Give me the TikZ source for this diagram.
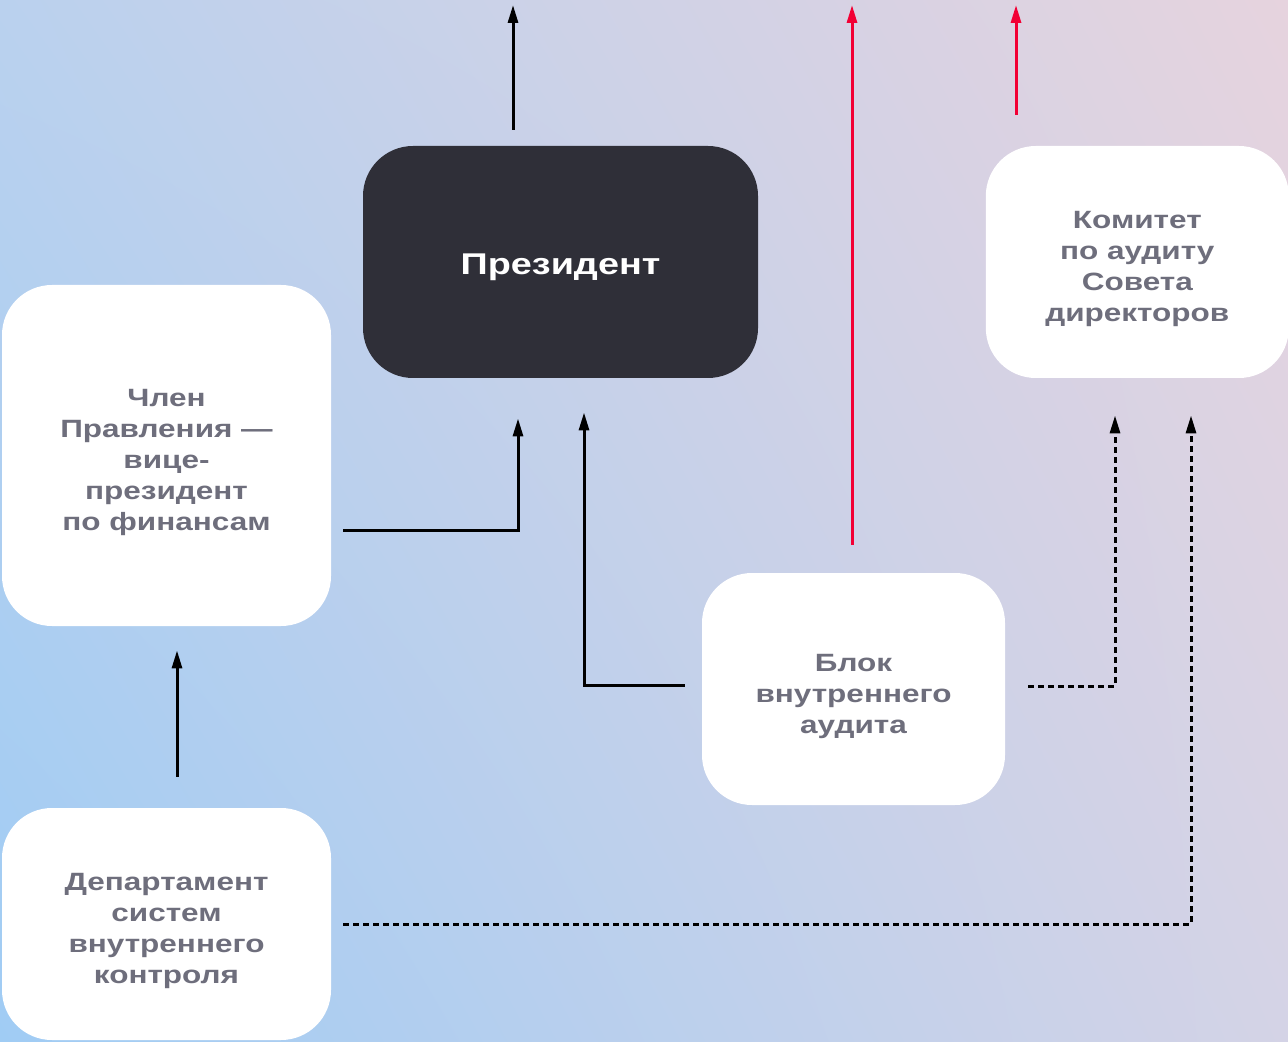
\documentclass[tikz,border=0pt]{standalone}
\usepackage{fontspec}
\setmainfont{Liberation Sans}[FakeStretch=1.26]
\usetikzlibrary{positioning,arrows.meta,shadings}
\definecolor{boxtext}{RGB}{110,110,124}
\definecolor{presfill}{RGB}{47,47,56}
\definecolor{auditred}{RGB}{242,0,52}
\definecolor{bgtl}{RGB}{186,209,238}
\definecolor{bgtr}{RGB}{230,211,222}
\definecolor{bgbl}{RGB}{160,204,244}
\definecolor{bgbr}{RGB}{212,211,230}
\newcommand{\boxstrut}{\rule{0pt}{13pt}}

\begin{document}
\begin{tikzpicture}[
  x=0.5pt, y=-0.5pt,
  box/.style={
    rectangle, fill=white, rounded corners=25pt,
    minimum width=151.5pt, minimum height=116pt,
    align=center, text=boxtext, inner sep=0pt, text depth=0pt,
    font=\fontsize{12.5}{15.5}\selectfont\bfseries
  },
  darkbox/.style={
    box, fill=presfill, text=white, minimum width=197.5pt,
    font=\fontsize{15}{18}\selectfont\bfseries
  },
  arr/.style={-{Triangle[length=9pt,width=5pt]}, line width=1.5pt},
  dasharr/.style={arr, dash pattern=on 3pt off 2pt},
  redarr/.style={arr, draw=auditred, -{Triangle[length=9pt,width=5pt,fill=auditred]}}
]
\useasboundingbox (0,0) rectangle (1288,1042);
\shade[upper left=bgtl, upper right=bgtr, lower left=bgbl, lower right=bgbr]
  (0,0) rectangle (1288,1042);

\node[darkbox] (pres) at (560.5,262) {\boxstrut Президент};
\node[box, right=113.5pt of pres] (com) {\boxstrut Комитет\\по аудиту\\Совета\\директоров};
\node[box, minimum width=164.5pt, minimum height=170.5pt] (vp) at (166.5,455.5)
  {\boxstrut Член\\Правления —\\вице-\\президент\\по финансам};
\node[box] (blok) at (853.5,689) {\boxstrut Блок\\внутреннего\\аудита};
\node[box, minimum width=164.5pt] (dep) at (166.5,924)
  {\boxstrut Департамент\\систем\\внутреннего\\контроля};

\coordinate (presout) at (513,5);
\coordinate (blokout) at (852,5);
\coordinate (comout) at (1016,5);

\draw[arr, shorten <=8pt] (pres.north -| 513,0) -- (presout);
\draw[redarr, shorten <=14pt] (blok.north -| 852,0) -- (blokout);
\draw[redarr, shorten <=15.5pt] (com.north -| 1016,0) -- (comout);

\draw[arr, shorten <=6pt, shorten >=20pt] (vp.east |- 0,530) -| (pres.south -| 518,0);
\draw[arr, shorten <=8.5pt, shorten >=17pt] (blok.west |- 0,685) -| (pres.south -| 584,0);
\draw[arr, shorten <=15.5pt, shorten >=12pt] (dep.north -| 177,0) -- (vp.south -| 177,0);

\draw[dasharr, shorten <=11.5pt, shorten >=18.5pt] (blok.east |- 0,686) -| (com.south -| 1115,0);
\draw[dasharr, shorten <=6pt, shorten >=18.5pt] (dep.east) -| (com.south -| 1191,0);

\end{tikzpicture}
\end{document}
